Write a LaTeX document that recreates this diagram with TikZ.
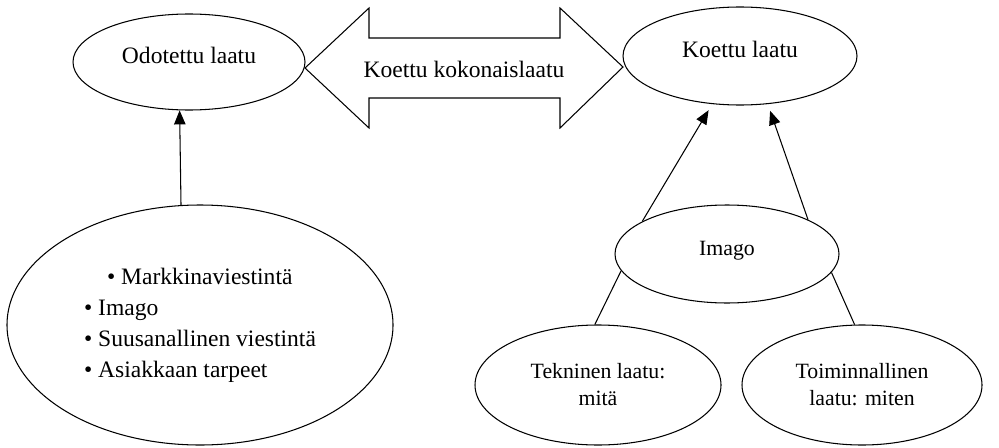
\documentclass[tikz,border=0pt]{standalone}
\usepackage{fontspec}
\setmainfont{Liberation Serif}
\usetikzlibrary{arrows.meta,positioning,shapes.geometric}

\begin{document}
\begin{tikzpicture}[
  soikio/.style={draw, ellipse, line width=0.6pt, inner sep=0pt,
                 font=\fontsize{12.4}{15.4}\selectfont, align=center},
  iso/.style={font=\fontsize{13.4}{17.6}\selectfont},
  yksi/.style={text height=0.33cm, text depth=0.28cm},
  arrow/.style={-{Triangle[length=8pt, width=6.5pt]}, line width=0.6pt},
  line/.style={line width=0.6pt}
]
  \useasboundingbox (0,0) rectangle (19.98,8.94);

  % odotettu laatu
  \node[soikio, iso, yksi, minimum width=4.64cm, minimum height=1.92cm]
    (odotettu) at (3.78,7.70) {Odotettu laatu};
  \node[soikio, iso, align=left, minimum width=7.72cm, minimum height=4.80cm]
    (tekijat) at (4.00,2.44)
    {\hspace*{0.46cm}\textbullet\ Markkinaviestintä\\
     \textbullet\ Imago\\
     \textbullet\ Suusanallinen viestintä\\
     \textbullet\ Asiakkaan tarpeet};
  \draw[arrow] (tekijat.99.5) -- (odotettu.259);

  % koettu kokonaislaatu
  \draw[line] (6.10,7.58) -- (7.38,8.78) -- (7.38,8.18) -- (11.20,8.18)
    -- (11.20,8.78) -- (12.46,7.60) -- (11.20,6.38) -- (11.20,6.98)
    -- (7.38,6.98) -- (7.38,6.38) -- cycle;
  \node[iso] (kokonais) at (9.28,7.56) {Koettu kokonaislaatu};

  % koettu laatu
  \node[soikio, iso, yksi, minimum width=4.68cm, minimum height=1.96cm]
    (koettu) at (14.80,7.82) {Koettu laatu};
  \node[soikio, yksi, minimum width=4.48cm, minimum height=1.96cm]
    (imago) at (14.54,3.86) {Imago};
  \node[soikio, minimum width=4.92cm, minimum height=2.40cm]
    (tekninen) at (11.96,1.24) {Tekninen laatu:\\mitä};
  \node[soikio, minimum width=4.80cm, minimum height=2.40cm]
    (toiminnallinen) at (17.24,1.24) {Toiminnallinen\\laatu: miten};
  \draw[arrow, shorten >=4pt] (imago.159) -- (koettu.240);
  \draw[arrow, shorten >=4pt] (imago.23) -- (koettu.300);
  \draw[line] (tekninen.93) -- (imago.189.5);
  \draw[line] (toiminnallinen.97) -- (imago.350);
\end{tikzpicture}
\end{document}
